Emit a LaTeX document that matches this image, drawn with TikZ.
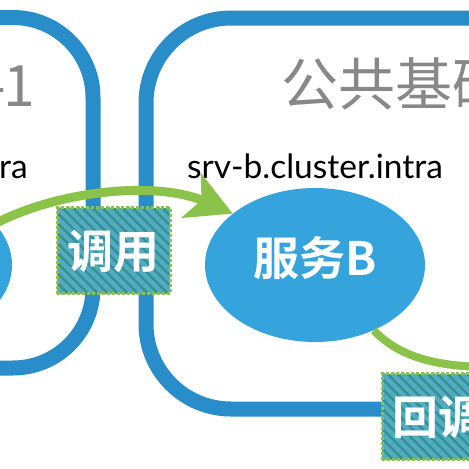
\documentclass[tikz,border=0pt]{standalone}
\usepackage{fontspec}
\setmainfont{Lato}
\newfontfamily\cjk{Noto Sans CJK SC}[BoldFont={Noto Sans CJK SC Bold}]
\usetikzlibrary{shapes.geometric,arrows.meta}
\definecolor{frameblue}{RGB}{41,141,201}
\definecolor{nodeblue}{RGB}{53,163,220}
\definecolor{linkgreen}{RGB}{139,195,74}
\definecolor{boxteal}{RGB}{48,146,146}
\definecolor{boxstripe}{RGB}{84,170,192}
\definecolor{titlegray}{RGB}{136,136,136}
\tikzset{
  frame/.style={draw=frameblue,line width=15pt},
  svc/.style={ellipse,fill=nodeblue,minimum width=220pt,minimum height=154pt,inner sep=0pt,
    text=white,font=\cjk\bfseries\fontsize{46}{46}\selectfont,text height=21pt,text depth=0pt},
  tagbox/.style={rectangle,fill=boxteal,draw=linkgreen,line width=3pt,dash pattern=on 3pt off 2pt,
    minimum width=113pt,minimum height=86pt,inner sep=0pt,text=white,
    font=\cjk\bfseries\fontsize{46}{46}\selectfont,text height=35pt,text depth=0pt,
    path picture={\foreach \i in {-110,-100,...,120}
      \draw[boxstripe,line width=4.5pt,solid] ([xshift=\i pt]path picture bounding box.north west) -- ++(115,115);}},
  link/.style={draw=linkgreen,line width=9pt},
  urltext/.style={font=\fontsize{33.5}{33.5}\selectfont,text=black,inner sep=0pt},
  titletext/.style={font=\cjk\fontsize{57}{57}\selectfont,text=titlegray,inner sep=0pt}
}
\begin{document}
\begin{tikzpicture}[x=1pt,y=-1pt]
\useasboundingbox (0,0) rectangle (469,469);
\clip (0,0) rectangle (469,469);
\fill[white] (0,0) rectangle (469,469);
% frames
\draw[frame,rounded corners=80pt] (-300,17.5) rectangle (93,368);
\draw[frame,rounded corners=85pt] (146,18) rectangle (760,409);
% titles and texts
\node[titletext,anchor=base east] (t1) at (35,106) {-\kern-3pt 1};
\node[titletext,anchor=base west] (t2) at (281,105) {公共基础};
\node[urltext,anchor=base east] (u1) at (28,178) {ra};
\node[urltext,anchor=base west] (u2) at (187,178) {srv-b.cluster.intra};
% services
\node[svc] (A) at (-98,265) {};
\node[svc] (B) at (315,265) {服务B};
% boxes
\node[tagbox] (call) at (113.5,250.5) {调用};
\node[tagbox] (cb) at (438.5,416.5) {回调};
% links
\coordinate (C) at (500,367);
\draw[link,-{Stealth[length=45pt,width=48pt,inset=11pt]}] (A.24) .. controls (65,188) and (160,182) .. (B.148);
\draw[link,line width=8pt] (B.-48) .. controls (400,358) and (440,368) .. (C);
\end{tikzpicture}
\end{document}
